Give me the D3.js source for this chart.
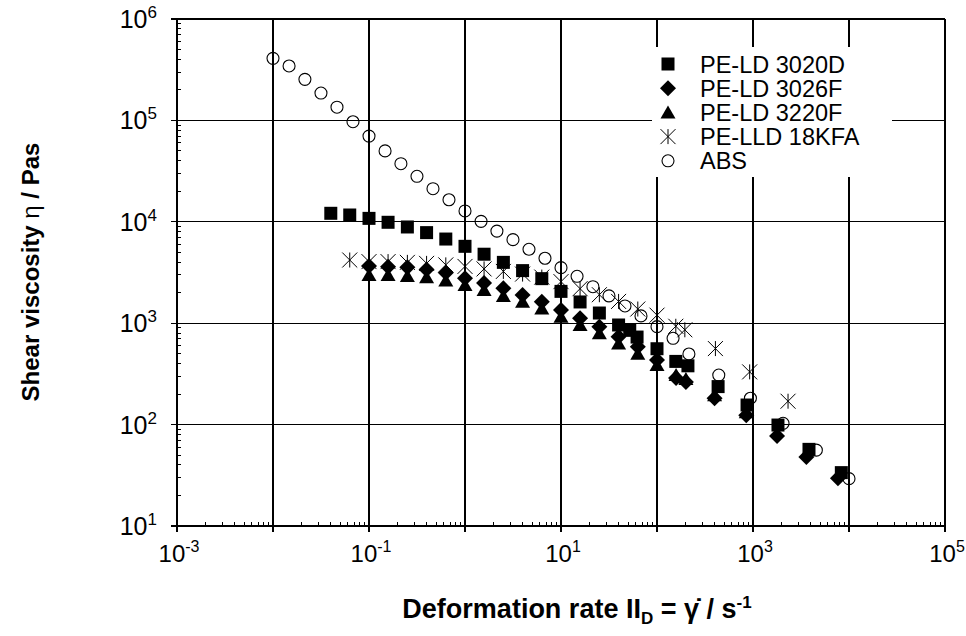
<!DOCTYPE html>
<html>
<head>
<meta charset="utf-8">
<script src="https://cdn.jsdelivr.net/npm/d3@7"></script>
<style>
  body { margin: 0; background: #fff; }
  text { font-family: "Liberation Sans", Arial, sans-serif; fill: #000; }
</style>
</head>
<body>
<div id="main"></div>
<script>
///////////
// DATA  //
///////////

const series_names = ["PE-LD 3020D", "PE-LD 3026F", "PE-LD 3220F", "PE-LLD 18KFA", "ABS"]
const series_symbols = ["square", "diamond", "triangle", "star", "circle"]

// PE-LD 3020D (squares)
const ld3020d_x = [0.04, 0.063, 0.1, 0.158, 0.251, 0.398, 0.631, 1, 1.58, 2.51, 3.98, 6.31, 10, 15.8, 25.1, 39.8, 52, 62, 100, 157, 210, 433, 867, 1820, 3830, 8320]
const ld3020d_y = [12130, 11670, 10810, 9890, 8890, 7820, 6760, 5730, 4790, 3980, 3300, 2750, 2060, 1620, 1260, 960, 850, 730, 560, 420, 380, 237, 156, 99, 57, 33.6]

// PE-LD 3026F (diamonds)
const ld3026f_x = [0.1, 0.158, 0.251, 0.398, 0.631, 1, 1.58, 2.51, 3.98, 6.31, 10, 15.8, 25.1, 39.8, 63.1, 100, 158, 200, 398, 851, 1780, 3600, 7670]
const ld3026f_y = [3660, 3610, 3560, 3390, 3150, 2770, 2490, 2210, 1900, 1630, 1350, 1120, 925, 735, 586, 434, 288, 263, 182, 124, 77, 48, 29.5]

// PE-LD 3220F (triangles)
const ld3220f_x = [0.1, 0.158, 0.251, 0.398, 0.631, 1, 1.58, 2.51, 3.98, 6.31, 10, 15.8, 25.1, 39.8, 63.1, 100, 158, 200, 398, 851]
const ld3220f_y = [2990, 2990, 2920, 2840, 2630, 2380, 2120, 1850, 1630, 1400, 1160, 960, 794, 631, 501, 387, 309, 282, 195, 132]

// PE-LLD 18KFA (stars)
const lld18kfa_x = [0.063, 0.1, 0.158, 0.251, 0.398, 0.631, 1, 1.58, 2.51, 3.98, 6.31, 10, 15.8, 25.1, 39.8, 63.1, 100, 157, 195, 406, 923, 2317]
const lld18kfa_y = [4200, 4050, 4050, 3980, 3890, 3760, 3630, 3430, 3240, 3050, 2850, 2570, 2190, 1910, 1640, 1380, 1200, 933, 861, 562, 331, 170]

// ABS (open circles)
const abs_x = [0.01, 0.0147, 0.0215, 0.0316, 0.0464, 0.0681, 0.1, 0.147, 0.215, 0.316, 0.464, 0.681, 1, 1.47, 2.15, 3.16, 4.64, 6.81, 10, 14.7, 21.5, 31.6, 46.4, 68.1, 100, 147, 215, 440, 940, 2056, 4570, 10000]
const abs_y = [409000, 344000, 254000, 186000, 135000, 97000, 70000, 50000, 37400, 28100, 21200, 16500, 12800, 10100, 8100, 6670, 5360, 4370, 3530, 2900, 2290, 1860, 1480, 1180, 925, 710, 497, 308, 182, 103, 56, 29.3]

const x_ticks = [1e-3, 1e-2, 1e-1, 1e0, 1e1, 1e2, 1e3, 1e4, 1e5]
const x_labels = [[1e-3, "-3"], [1e-1, "-1"], [1e1, "1"], [1e3, "3"], [1e5, "5"]]
const y_ticks = [1e1, 1e2, 1e3, 1e4, 1e5, 1e6]
const y_labels = [[1e1, "1"], [1e2, "2"], [1e3, "3"], [1e4, "4"], [1e5, "5"], [1e6, "6"]]

const all_series = [
    [ld3020d_x, ld3020d_y],
    [ld3026f_x, ld3026f_y],
    [ld3220f_x, ld3220f_y],
    [lld18kfa_x, lld18kfa_y],
    [abs_x, abs_y]
]

///////////
// SETUP //
///////////

const width = 966
const height = 636
const plot = { left: 177, right: 945, top: 19, bottom: 526 }

const x = d3.scaleLog().domain([1e-3, 1e5]).range([plot.left, plot.right])
const y = d3.scaleLog().domain([1e1, 1e6]).range([plot.bottom, plot.top])

const svg = d3.select("#main").append("svg")
    .attr("width", width)
    .attr("height", height)

//////////
// GRID //
//////////

const grid = svg.append("g").attr("shape-rendering", "crispEdges")

grid.selectAll("line.vgrid").data(x_ticks).enter().append("line")
    .attr("x1", d => x(d)).attr("x2", d => x(d))
    .attr("y1", plot.top).attr("y2", plot.bottom + 6)
    .attr("stroke", "#000").attr("stroke-width", 1.2)

grid.selectAll("line.hgrid").data(y_ticks).enter().append("line")
    .attr("x1", plot.left - 6).attr("x2", plot.right)
    .attr("y1", d => y(d)).attr("y2", d => y(d))
    .attr("stroke", "#000").attr("stroke-width", 1.2)

// minor ticks (inside)
const x_minor = []
x_ticks.slice(0, -1).forEach(t => { for (let k = 2; k < 10; k++) x_minor.push(t * k) })
const y_minor = []
y_ticks.slice(0, -1).forEach(t => { for (let k = 2; k < 10; k++) y_minor.push(t * k) })

grid.selectAll("line.xminor").data(x_minor).enter().append("line")
    .attr("x1", d => x(d)).attr("x2", d => x(d))
    .attr("y1", plot.bottom - 4).attr("y2", plot.bottom)
    .attr("stroke", "#000")

grid.selectAll("line.yminor").data(y_minor).enter().append("line")
    .attr("x1", plot.left).attr("x2", plot.left + 4)
    .attr("y1", d => y(d)).attr("y2", d => y(d))
    .attr("stroke", "#000")

// tick labels
const xl = svg.selectAll("text.xlab").data(x_labels).enter().append("text")
    .attr("x", d => x(d[0]) + 2)
    .attr("y", 562)
    .attr("text-anchor", "middle")
    .style("font-size", "24px")
xl.append("tspan").text("10")
xl.append("tspan").attr("dy", -10).style("font-size", "16px").text(d => d[1])

const yl = svg.selectAll("text.ylab").data(y_labels).enter().append("text")
    .attr("x", 157)
    .attr("y", d => y(d[0]) + 9)
    .attr("text-anchor", "end")
    .style("font-size", "25px")
yl.append("tspan").text("10")
yl.append("tspan").attr("dy", -10).style("font-size", "17px").text(d => d[1])

// axis titles
const xt = svg.append("text")
    .attr("x", 577).attr("y", 618)
    .attr("text-anchor", "middle")
    .style("font-size", "27px").style("font-weight", "bold")
xt.append("tspan").text("Deformation rate II")
xt.append("tspan").attr("dy", 6).style("font-size", "17px").text("D")
xt.append("tspan").attr("dy", -6).text(" = \u03B3\u0307 / s")
xt.append("tspan").attr("dy", -10).style("font-size", "17px").text("-1")

const yt = svg.append("text")
    .attr("transform", "translate(39,272) rotate(-90)")
    .attr("text-anchor", "middle")
    .style("font-size", "24px").style("font-weight", "bold")
yt.append("tspan").text("Shear viscosity  ")
yt.append("tspan").style("font-weight", "normal").text("\u03B7")
yt.append("tspan").text(" / Pas")

/////////////
// MARKERS //
/////////////

function draw_marker(g, sym, cx, cy){
    if (sym === "square") {
        g.append("rect").attr("x", cx - 6.5).attr("y", cy - 6.5)
            .attr("width", 13).attr("height", 13).attr("fill", "#000")
    } else if (sym === "diamond") {
        g.append("path").attr("d", `M${cx},${cy - 8}L${cx + 8},${cy}L${cx},${cy + 8}L${cx - 8},${cy}Z`)
            .attr("fill", "#000")
    } else if (sym === "triangle") {
        g.append("path").attr("d", `M${cx},${cy - 7}L${cx + 7.5},${cy + 6}L${cx - 7.5},${cy + 6}Z`)
            .attr("fill", "#000")
    } else if (sym === "star") {
        const s = 7.5
        g.append("path")
            .attr("d", `M${cx - s},${cy - s}L${cx + s},${cy + s}M${cx + s},${cy - s}L${cx - s},${cy + s}M${cx},${cy - s}L${cx},${cy + s}`)
            .attr("stroke", "#000").attr("stroke-width", 1).attr("fill", "none")
    } else {
        g.append("circle").attr("cx", cx).attr("cy", cy).attr("r", 6)
            .attr("fill", "none").attr("stroke", "#000").attr("stroke-width", 1.1)
    }
}

const marks = svg.append("g")
all_series.forEach((s, i) => {
    const [xs, ys] = s
    const g = marks.append("g").attr("class", "series-" + i)
    xs.forEach((xv, j) => draw_marker(g, series_symbols[i], x(xv), y(ys[j])))
})

////////////
// LEGEND //
////////////

const legend = svg.append("g")
legend.append("rect")
    .attr("x", 652).attr("y", 47).attr("width", 240).attr("height", 130)
    .attr("fill", "#fff")

series_names.forEach((name, i) => {
    const cy = 64 + i * 24.2
    draw_marker(legend, series_symbols[i], 668, cy)
    legend.append("text")
        .attr("x", 700).attr("y", cy + 8.5)
        .style("font-size", "23.5px")
        .text(name)
})
</script>
</body>
</html>
